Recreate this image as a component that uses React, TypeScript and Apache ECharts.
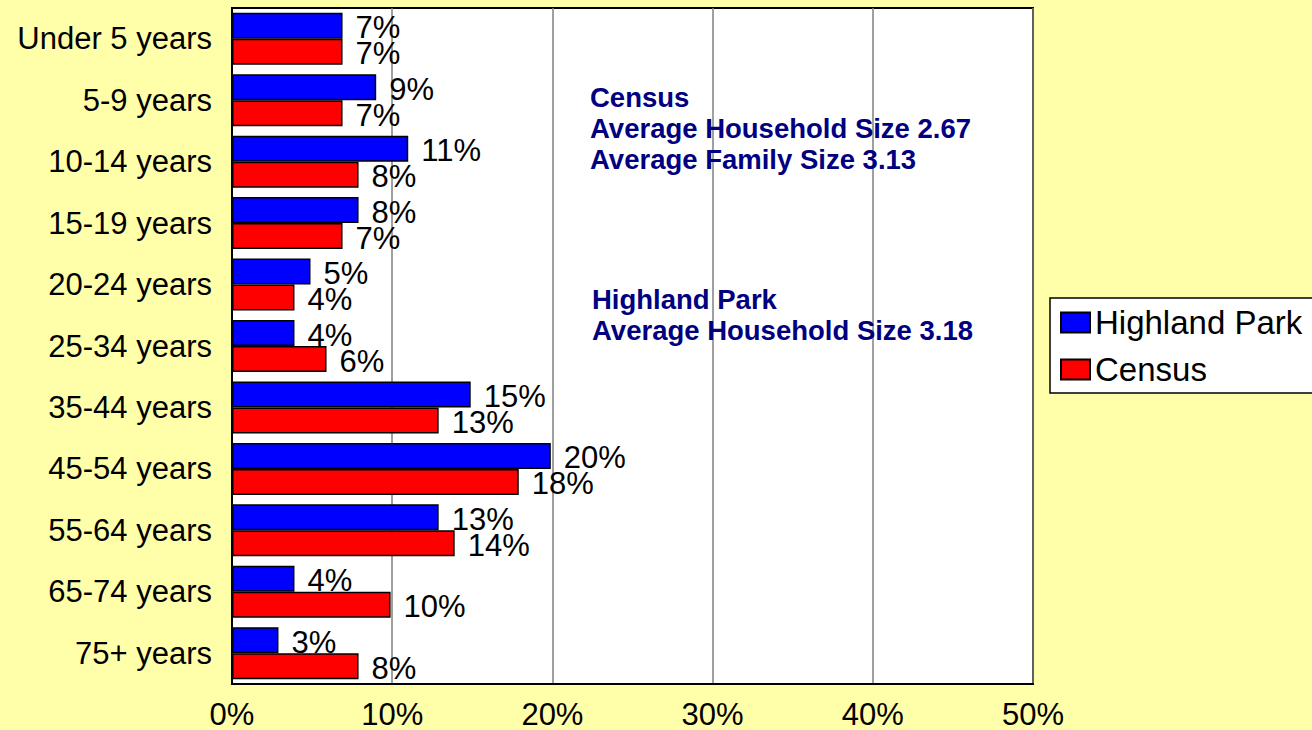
import React, { useEffect, useRef } from "react";
import * as echarts from "echarts";

const categories = [
  "Under 5 years",
  "5-9 years",
  "10-14 years",
  "15-19 years",
  "20-24 years",
  "25-34 years",
  "35-44 years",
  "45-54 years",
  "55-64 years",
  "65-74 years",
  "75+ years",
];
const highlandPark = [6.9, 9.0, 11.0, 7.9, 4.9, 3.9, 14.9, 19.9, 12.9, 3.9, 2.9];
const census = [6.9, 6.9, 7.9, 6.9, 3.9, 5.9, 12.9, 17.9, 13.9, 9.9, 7.9];
const xTicks = [0, 10, 20, 30, 40, 50];
const censusNotes = ["Census", "Average Household Size 2.67", "Average Family Size 3.13"];
const hpNotes = ["Highland Park", "Average Household Size 3.18"];

const FONT = "'Liberation Sans', Arial, sans-serif";

export default function App() {
  const ref = useRef<HTMLDivElement>(null);
  useEffect(() => {
    document.body.style.margin = "0";
    const chart = echarts.init(ref.current!, null, { renderer: "svg" });
    const noteText = (lines: string[], x: number, y0: number) =>
      lines.map((t, i) => ({
        type: "text",
        x,
        y: y0 + i * 31,
        z: 100,
        style: {
          text: t,
          fill: "#000080",
          font: `bold 27.5px ${FONT}`,
          textVerticalAlign: "middle",
          textAlign: "left",
        },
      }));
    const labelCfg = {
      show: true,
      position: "right",
      distance: 13,
      offset: [0, 2],
      color: "#000",
      fontSize: 31,
      fontFamily: FONT,
      formatter: (p: any) => `${Math.round(p.value)}%`,
    };
    chart.setOption({
      animation: false,
      backgroundColor: "#FFFFAA",
      textStyle: { fontFamily: FONT },
      grid: {
        left: 232,
        top: 8,
        width: 801,
        height: 678,
        show: true,
        backgroundColor: "#fff",
        borderColor: "#000",
        borderWidth: 2,
      },
      legend: {
        orient: "vertical",
        left: 1050,
        top: 298,
        backgroundColor: "#fff",
        borderColor: "#000",
        borderWidth: 1.5,
        padding: [8, 30, 7, 10],
        itemWidth: 29,
        itemHeight: 20,
        itemGap: 14,
        icon: "rect",
        textStyle: { fontSize: 33, lineHeight: 33, color: "#000", fontFamily: FONT },
        data: ["Highland Park", "Census"],
      },
      xAxis: {
        type: "value",
        min: xTicks[0],
        max: xTicks[xTicks.length - 1],
        interval: 10,
        axisLine: { show: true, lineStyle: { color: "#000", width: 2 } },
        axisTick: { show: false },
        axisLabel: {
          formatter: "{value}%",
          fontSize: 31,
          color: "#000",
          fontFamily: FONT,
          margin: 15,
        },
        splitLine: { show: true, lineStyle: { color: "#808080", width: 1.5 } },
      },
      yAxis: {
        type: "category",
        data: categories,
        inverse: true,
        axisLine: { show: true, lineStyle: { color: "#000", width: 2 } },
        axisTick: { show: false },
        axisLabel: {
          fontSize: 31,
          color: "#000",
          fontFamily: FONT,
          margin: 20,
        },
      },
      series: [
        {
          name: "Highland Park",
          type: "bar",
          data: highlandPark,
          barWidth: 26,
          barGap: "0%",
          itemStyle: { color: "#0000FF", borderColor: "#000", borderWidth: 1.5 },
          label: labelCfg,
        },
        {
          name: "Census",
          type: "bar",
          data: census,
          barWidth: 26,
          barGap: "0%",
          itemStyle: { color: "#FF0000", borderColor: "#000", borderWidth: 1.5 },
          label: labelCfg,
        },
      ],
      graphic: [...noteText(censusNotes, 590, 97), ...noteText(hpNotes, 592, 299)],
    });
    return () => chart.dispose();
  }, []);
  return <div ref={ref} style={{ width: 1312, height: 730 }} />;
}
